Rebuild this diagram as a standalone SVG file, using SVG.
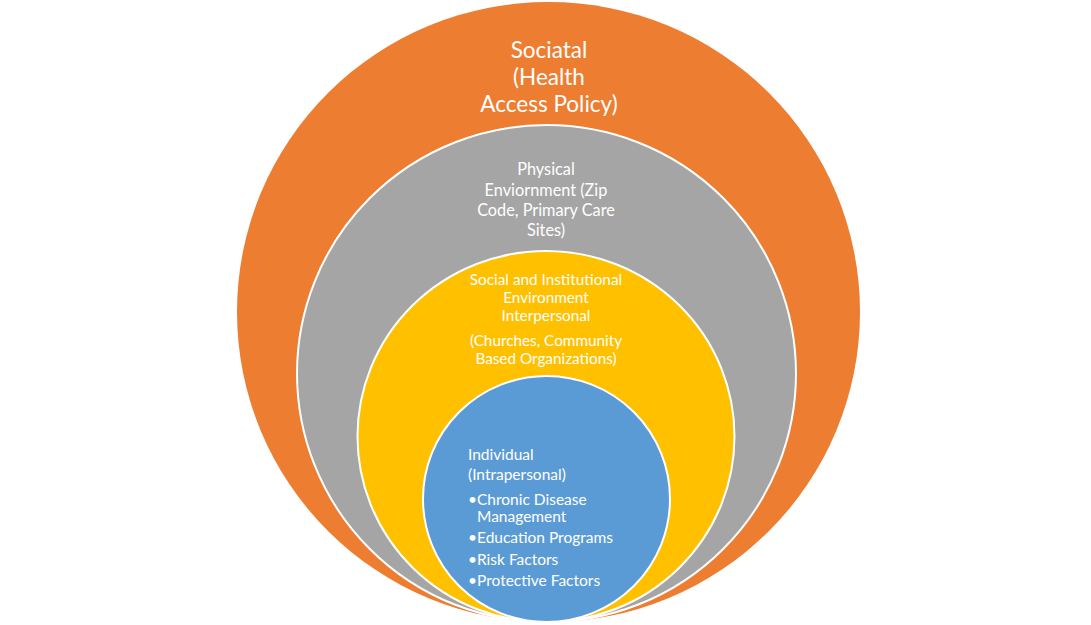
<svg xmlns="http://www.w3.org/2000/svg" width="1091" height="625" viewBox="0 0 1091 625">
<style>
.ring{stroke:#ffffff;stroke-width:2}
text{font-family:Lato,"Liberation Sans",sans-serif;fill:#ffffff}
.c{text-anchor:middle}
.y{font-size:15.3px}
.b{font-size:15.5px}
</style>
<rect width="1091" height="625" fill="#ffffff"/>
<g id="societal">
<ellipse cx="548.5" cy="312" rx="311.5" ry="310" fill="#ED7D31"/>
<text class="c" x="549" y="58" font-size="22.5">Sociatal</text>
<text class="c" x="549" y="85" font-size="22.5">(Health</text>
<text class="c" x="549" y="112" font-size="22.5">Access Policy)</text>
</g>
<g id="physical">
<ellipse class="ring" cx="546.5" cy="373.5" rx="249.5" ry="248.5" fill="#A5A5A5"/>
<text class="c" x="546" y="175" font-size="16.3">Physical</text>
<text class="c" x="546" y="196" font-size="16.3">Enviornment (Zip</text>
<text class="c" x="546" y="216" font-size="16.3">Code, Primary Care</text>
<text class="c" x="546" y="236" font-size="16.3">Sites)</text>
</g>
<g id="social">
<ellipse class="ring" cx="546" cy="436.5" rx="188.5" ry="185.5" fill="#FFC000"/>
<text class="c y" x="546" y="285">Social and Institutional</text>
<text class="c y" x="546" y="303">Environment</text>
<text class="c y" x="546" y="321">Interpersonal</text>
<text class="c y" x="546" y="346">(Churches, Community</text>
<text class="c y" x="546" y="364">Based Organizations)</text>
</g>
<g id="individual">
<ellipse class="ring" cx="546.5" cy="499" rx="123.5" ry="123" fill="#5B9BD5"/>
<text class="b" x="468" y="460">Individual</text>
<text class="b" x="468" y="480">(Intrapersonal)</text>
<text class="b" x="468" y="505">•</text><text class="b" x="477" y="505">Chronic Disease</text>
<text class="b" x="477" y="522">Management</text>
<text class="b" x="468" y="543">•</text><text class="b" x="477" y="543">Education Programs</text>
<text class="b" x="468" y="565">•</text><text class="b" x="477" y="565">Risk Factors</text>
<text class="b" x="468" y="586">•</text><text class="b" x="477" y="586">Protective Factors</text>
</g>
<g id="connectors"/>
</svg>
